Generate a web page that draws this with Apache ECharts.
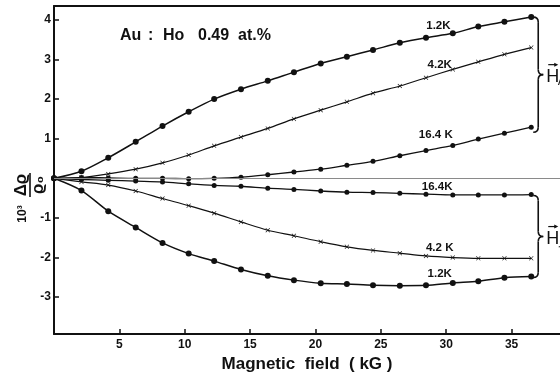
<!DOCTYPE html>
<html>
<head>
<meta charset="utf-8">
<script src="https://cdn.jsdelivr.net/npm/echarts/dist/echarts.min.js"></script>
<style>
  html, body { margin: 0; padding: 0; background: #fff; }
  #chart { width: 560px; height: 372px; }
</style>
</head>
<body>
<div id="chart"></div>
<script>
// Magnetic field (kG) at which each resistivity point was taken
const field = [0, 2.1, 4.15, 6.25, 8.3, 10.3, 12.25, 14.3, 16.35, 18.35, 20.4, 22.4, 24.4, 26.45, 28.45, 30.5, 32.45, 34.45, 36.5];

// 10^3 Δρ/ρ0, field parallel to current
const par12 = [0, 0.18, 0.52, 0.92, 1.32, 1.68, 2.0, 2.25, 2.46, 2.68, 2.9, 3.07, 3.24, 3.42, 3.55, 3.66, 3.83, 3.95, 4.07];
const par42 = [0, 0.02, 0.11, 0.23, 0.39, 0.59, 0.82, 1.04, 1.26, 1.5, 1.72, 1.93, 2.15, 2.33, 2.54, 2.75, 2.94, 3.13, 3.3];
const par164 = [0, 0.02, 0.01, 0.0, 0.0, -0.01, 0.0, 0.03, 0.09, 0.16, 0.23, 0.33, 0.43, 0.57, 0.70, 0.83, 0.99, 1.14, 1.29];

// 10^3 Δρ/ρ0, field perpendicular to current
const perp164 = [0, -0.03, -0.05, -0.07, -0.09, -0.14, -0.18, -0.2, -0.25, -0.28, -0.32, -0.35, -0.36, -0.38, -0.4, -0.42, -0.42, -0.42, -0.41];
const perp42 = [0, -0.09, -0.17, -0.32, -0.51, -0.69, -0.88, -1.1, -1.31, -1.45, -1.6, -1.73, -1.82, -1.89, -1.96, -2.0, -2.02, -2.02, -2.02];
const perp12 = [0, -0.31, -0.83, -1.24, -1.63, -1.9, -2.09, -2.3, -2.46, -2.57, -2.65, -2.67, -2.7, -2.71, -2.7, -2.64, -2.6, -2.51, -2.48];

// Axis ticks
const xTicks = [5, 10, 15, 20, 25, 30, 35];
const yTicks = [-3, -2, -1, 1, 2, 3, 4];

// Curve captions and the temperature each one names
const captions = [
  { text: '1.2K',   at: [29.4, 3.84] },
  { text: '4.2K',   at: [29.5, 2.86] },
  { text: '16.4 K', at: [29.2, 1.09] },
  { text: '16.4K',  at: [29.3, -0.22] },
  { text: '4.2 K',  at: [29.5, -1.76] },
  { text: '1.2K',   at: [29.5, -2.40] }
];

const INK = '#111';
const FONT = '"Liberation Sans", Arial, sans-serif';
const CROSS = 'path://M0,1L1,0L5,4L9,0L10,1L6,5L10,9L9,10L5,6L1,10L0,9L4,5Z';

function pairs(ys) { return field.map((x, i) => [x, ys[i]]); }

function curve(name, ys, symbol, size, width) {
  return {
    name, type: 'line', data: pairs(ys),
    smooth: 0.3, symbol, symbolSize: size, showSymbol: true,
    lineStyle: { color: INK, width },
    itemStyle: { color: INK },
    z: 3, animation: false
  };
}

const chart = echarts.init(document.getElementById('chart'), null, { renderer: 'canvas' });

const series = [
  curve('1.2K par', par12, 'circle', 6, 1.5),
  curve('4.2K par', par42, CROSS, 4.5, 1.2),
  curve('16.4K par', par164, 'circle', 5, 1.3),
  curve('16.4K perp', perp164, 'circle', 5, 1.3),
  curve('4.2K perp', perp42, CROSS, 4.5, 1.2),
  curve('1.2K perp', perp12, 'circle', 6, 1.5)
];
// thin zero reference line
series[0].markLine = {
  silent: true, symbol: 'none', animation: false,
  label: { show: false },
  lineStyle: { color: '#8a8a8a', width: 1, type: 'solid' },
  data: [{ yAxis: 0 }]
};

const X_MAX = 38.7;

chart.setOption({
  animation: false,
  backgroundColor: '#fff',
  grid: { left: 54, right: 0, top: 6, bottom: 38, containLabel: false, outerBoundsMode: 'none' },
  xAxis: [{
    type: 'value', min: 0, max: X_MAX,
    axisLine: { show: true, onZero: false, lineStyle: { color: INK, width: 2 } },
    axisTick: { show: true, inside: true, length: 5, customValues: xTicks, lineStyle: { color: INK, width: 1.5 } },
    axisLabel: { customValues: xTicks, margin: 5, color: INK, fontFamily: FONT, fontWeight: 'bold', fontSize: 12 },
    splitLine: { show: false },
    name: 'Magnetic  field  ( kG )', nameLocation: 'middle', nameGap: 16,
    nameTextStyle: { color: INK, fontFamily: FONT, fontWeight: 'bold', fontSize: 17 }
  }, {
    type: 'value', position: 'top', min: 0, max: X_MAX,
    axisLine: { show: true, onZero: false, lineStyle: { color: INK, width: 2 } },
    axisTick: { show: false }, axisLabel: { show: false }, splitLine: { show: false }
  }],
  yAxis: {
    type: 'value', min: -3.93, max: 4.35,
    axisLine: { show: true, onZero: false, lineStyle: { color: INK, width: 2 } },
    axisTick: { show: true, inside: true, length: 5, customValues: yTicks, lineStyle: { color: INK, width: 1.5 } },
    axisLabel: { customValues: yTicks, margin: 3, color: INK, fontFamily: FONT, fontWeight: 'bold', fontSize: 12 },
    splitLine: { show: false }
  },
  series
});

// Annotations placed through the chart's own coordinate system
function px(pt) { return chart.convertToPixel({ gridIndex: 0 }, pt); }

const graphics = [];

captions.forEach(c => {
  const p = px(c.at);
  graphics.push({
    type: 'text', x: p[0], y: p[1],
    style: { text: c.text, fill: INK, font: 'bold 11.5px ' + FONT, textAlign: 'center', textVerticalAlign: 'middle' }
  });
});

// Sample title, set word by word
[['Au', 120], [':', 148], ['Ho', 163], ['0.49', 198], ['at.%', 238]].forEach(([t, x]) => {
  graphics.push({
    type: 'text', x, y: 36,
    style: { text: t, fill: INK, font: 'bold 16px ' + FONT, textVerticalAlign: 'middle' }
  });
});

// Right-hand braces grouping the two field orientations
const BRACE_STYLE = { stroke: INK, lineWidth: 1.6, fill: null };
const BRACE_W = 10;
function brace(yTop, yBot, x) {
  const w = BRACE_W, ym = (yTop + yBot) / 2, r = 5, xm = x + w / 2;
  const q = (x1, y1, cx, cy, x2, y2) => ({
    type: 'bezierCurve', shape: { x1, y1, cpx1: cx, cpy1: cy, x2, y2 }, style: BRACE_STYLE
  });
  const l = (x1, y1, x2, y2) => ({ type: 'line', shape: { x1, y1, x2, y2 }, style: BRACE_STYLE });
  return [
    q(x, yTop, xm, yTop, xm, yTop + r),
    l(xm, yTop + r, xm, ym - r),
    q(xm, ym - r, xm, ym, x + w, ym),
    q(x + w, ym, xm, ym, xm, ym + r),
    l(xm, ym + r, xm, yBot - r),
    q(xm, yBot - r, xm, yBot, x, yBot)
  ];
}
const last = field.length - 1;
const bx = px([field[last], 0])[0] + 2;
const parTop = px([field[last], par12[last]])[1];
const parBot = px([field[last], par164[last]])[1] + 5;
const perpTop = px([field[last], perp164[last]])[1] + 1;
const perpBot = px([field[last], perp12[last]])[1] + 1;

[[parTop, parBot], [perpTop, perpBot]].forEach(([t, b]) => {
  brace(t, b, bx).forEach(el => graphics.push(el));
});

function fieldSymbol(yMid, sub) {
  const hx = bx + BRACE_W + 3;
  graphics.push({
    type: 'text', x: hx, y: yMid + 2,
    style: { text: 'H', fill: INK, font: '18px ' + FONT, textVerticalAlign: 'middle' }
  });
  // vector arrow over the H
  graphics.push({
    type: 'line', shape: { x1: hx + 2, y1: yMid - 10, x2: hx + 10, y2: yMid - 10 },
    style: { stroke: INK, lineWidth: 1.2 }
  });
  graphics.push({
    type: 'polygon', shape: { points: [[hx + 12, yMid - 10], [hx + 8, yMid - 12], [hx + 8, yMid - 8]] },
    style: { fill: INK }
  });
  graphics.push({
    type: 'text', x: hx + 12, y: yMid + 8,
    style: { text: sub, fill: INK, font: 'bold italic 10px ' + FONT, textVerticalAlign: 'middle' }
  });
}
fieldSymbol((parTop + parBot) / 2, '//');
fieldSymbol((perpTop + perpBot) / 2, '⊥');

// Rotated y-axis title: 10³ Δϱ/ϱ₀
graphics.push({
  type: 'group', x: 30, y: 185, rotation: Math.PI / 2,
  children: [
    { type: 'text', x: 0, y: -9, style: { text: 'Δϱ', fill: INK, font: 'bold 17px ' + FONT, textAlign: 'center', textVerticalAlign: 'middle' } },
    { type: 'line', shape: { x1: -12, y1: 0, x2: 12, y2: 0 }, style: { stroke: INK, lineWidth: 1.6 } },
    { type: 'text', x: 0, y: 8, style: { text: 'ϱ₀', fill: INK, font: 'bold 17px ' + FONT, textAlign: 'center', textVerticalAlign: 'middle' } },
    { type: 'text', x: -29, y: -7, style: { text: '10³', fill: INK, font: 'bold 12px ' + FONT, textAlign: 'center', textVerticalAlign: 'middle' } }
  ]
});

chart.setOption({ graphic: { elements: graphics } });
</script>
</body>
</html>
